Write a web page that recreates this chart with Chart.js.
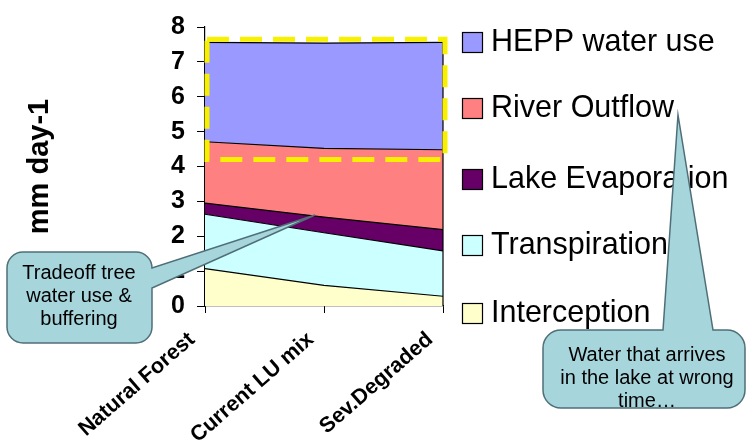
<!DOCTYPE html>
<html>
<head>
<meta charset="utf-8">
<script src="https://cdn.jsdelivr.net/npm/chart.js@4.4.0/dist/chart.umd.min.js"></script>
<style>
  html, body { margin: 0; padding: 0; background: #fff; }
  #wrap { position: relative; width: 746px; height: 444px; }
</style>
</head>
<body>
<div id="wrap"><canvas id="waterChart" width="746" height="444"></canvas></div>
<script>
// values (mm day-1, stacked)
const categories = ['Natural Forest', 'Current LU mix', 'Sev.Degraded'];
const interception = [1.07, 0.59, 0.28];
const transpiration = [1.56, 1.51, 1.30];
const lakeEvaporation = [0.32, 0.45, 0.61];
const riverOutflow = [1.76, 1.97, 2.29];
const heppWaterUse = [2.85, 3.02, 3.08];
const yTicks = [0, 1, 2, 3, 4, 5, 6, 7, 8];

const FONT = 'Arial, "Liberation Sans", sans-serif';

// legend on the right, top row = last dataset
const legendPlugin = {
    id: 'sideLegend',
    afterDraw(chart) {
        const ctx = chart.ctx;
        const rows = [42, 108, 179, 245, 313];
        const sets = chart.data.datasets.slice().reverse();
        ctx.save();
        ctx.font = '30.5px ' + FONT;
        ctx.textBaseline = 'middle';
        ctx.textAlign = 'left';
        sets.forEach(function(ds, i) {
            const y = rows[i];
            ctx.fillStyle = ds.backgroundColor;
            ctx.fillRect(462, y - 10, 20, 20);
            ctx.strokeStyle = '#000';
            ctx.lineWidth = 1.2;
            ctx.strokeRect(462.5, y - 9.5, 20, 20);
            ctx.fillStyle = '#000';
            ctx.fillText(ds.label, 491, y + 1);
        });
        ctx.restore();
    }
};

// right edge of the areas + yellow dashed highlight around HEPP
const extrasPlugin = {
    id: 'extras',
    afterDatasetsDraw(chart) {
        const ctx = chart.ctx;
        const xs = chart.scales.x, ys = chart.scales.y;
        const last = categories.length - 1;
        const total = interception[last] + transpiration[last] + lakeEvaporation[last] + riverOutflow[last] + heppWaterUse[last];
        ctx.save();
        ctx.strokeStyle = '#000';
        ctx.lineWidth = 1.2;
        ctx.beginPath();
        ctx.moveTo(xs.getPixelForValue(last), ys.getPixelForValue(0));
        ctx.lineTo(xs.getPixelForValue(last), ys.getPixelForValue(total));
        ctx.stroke();

        const left = xs.getPixelForValue(0) + 2;
        const right = xs.getPixelForValue(last) + 2;
        const top = ys.getPixelForValue(7.65);
        const bottom = ys.getPixelForValue(4.2);
        ctx.strokeStyle = '#F7F000';
        ctx.lineWidth = 5;
        ctx.setLineDash([22, 11]);
        ctx.strokeRect(left, top, right - left, bottom - top);
        ctx.restore();
    }
};

function drawCallout(ctx, pathFn, lines, cx, y0, step) {
    ctx.save();
    ctx.beginPath();
    pathFn(ctx);
    ctx.closePath();
    ctx.fillStyle = '#A7D5DC';
    ctx.fill();
    ctx.strokeStyle = '#4F6F78';
    ctx.lineWidth = 1.5;
    ctx.stroke();
    ctx.fillStyle = '#000';
    ctx.font = '20px ' + FONT;
    ctx.textAlign = 'center';
    ctx.textBaseline = 'middle';
    lines.forEach(function(t, i) { ctx.fillText(t, cx, y0 + i * step); });
    ctx.restore();
}

const calloutPlugin = {
    id: 'callouts',
    afterDraw(chart) {
        const ctx = chart.ctx;
        drawCallout(ctx, function(c) {
            const x0 = 7, y0 = 252, x1 = 152, y1 = 343, r = 16;
            c.moveTo(x0 + r, y0);
            c.arcTo(x1, y0, x1, y1, r);
            c.lineTo(x1, 268);
            c.lineTo(315, 215);
            c.lineTo(x1, 288);
            c.arcTo(x1, y1, x0, y1, r);
            c.arcTo(x0, y1, x0, y0, r);
            c.arcTo(x0, y0, x1, y0, r);
        }, ['Tradeoff tree', 'water use &', 'buffering'], 79, 273, 23);

        drawCallout(ctx, function(c) {
            const x0 = 543, y0 = 330, x1 = 745, y1 = 408, r = 18;
            c.moveTo(x0 + r, y0);
            c.lineTo(663, y0);
            c.lineTo(678, 115);
            c.lineTo(713, y0);
            c.arcTo(x1, y0, x1, y1, r);
            c.arcTo(x1, y1, x0, y1, r);
            c.arcTo(x0, y1, x0, y0, r);
            c.arcTo(x0, y0, x1, y0, r);
        }, ['Water that arrives', 'in the lake at wrong', 'time\u2026'], 647, 355, 23);
    }
};

function area(label, data, color, fill) {
    return {
        label: label,
        data: data,
        backgroundColor: color,
        borderColor: '#000',
        borderWidth: 1.2,
        pointRadius: 0,
        tension: 0,
        fill: fill
    };
}

document.addEventListener('DOMContentLoaded', function() {
    const ctx = document.getElementById('waterChart').getContext('2d');

    const waterChart = new Chart(ctx, {
        type: 'line',
        data: {
            labels: categories,
            datasets: [
                area('Interception', interception, '#FFFFCC', 'origin'),
                area('Transpiration', transpiration, '#CCFFFF', '-1'),
                area('Lake Evaporation', lakeEvaporation, '#660066', '-1'),
                area('River Outflow', riverOutflow, '#FF8080', '-1'),
                area('HEPP water use', heppWaterUse, '#9999FF', '-1')
            ]
        },
        options: {
            responsive: false,
            animation: false,
            devicePixelRatio: 1,
            layout: { padding: { top: 23, right: 303, left: 0, bottom: 0 } },
            plugins: {
                legend: { display: false },
                tooltip: { enabled: false }
            },
            scales: {
                x: {
                    offset: false,
                    grid: { offset: false, drawOnChartArea: false, color: '#000', tickLength: 7 },
                    border: { color: '#000', width: 1.2 },
                    ticks: {
                        color: '#000',
                        font: { family: FONT, size: 21.5, weight: 'bold' },
                        minRotation: 41,
                        maxRotation: 41,
                        padding: 14,
                        labelOffset: -13
                    },
                    afterFit: function(scale) { scale.height = 138; }
                },
                y: {
                    stacked: true,
                    min: 0,
                    max: 8,
                    afterBuildTicks: function(scale) {
                        scale.ticks = yTicks.map(function(v) { return { value: v }; });
                    },
                    grid: { drawOnChartArea: false, color: '#000', tickLength: 8 },
                    border: { color: '#000', width: 1.2 },
                    ticks: {
                        color: '#000',
                        font: { family: FONT, size: 25, weight: 'bold' },
                        padding: 12
                    },
                    title: {
                        display: true,
                        text: 'mm day-1',
                        color: '#000',
                        font: { family: FONT, size: 29, weight: 'bold' },
                        padding: { top: 23, bottom: 0 }
                    },
                    afterFit: function(scale) { scale.width = 205; }
                }
            }
        },
        plugins: [extrasPlugin, legendPlugin, calloutPlugin]
    });
});
</script>
</body>
</html>
